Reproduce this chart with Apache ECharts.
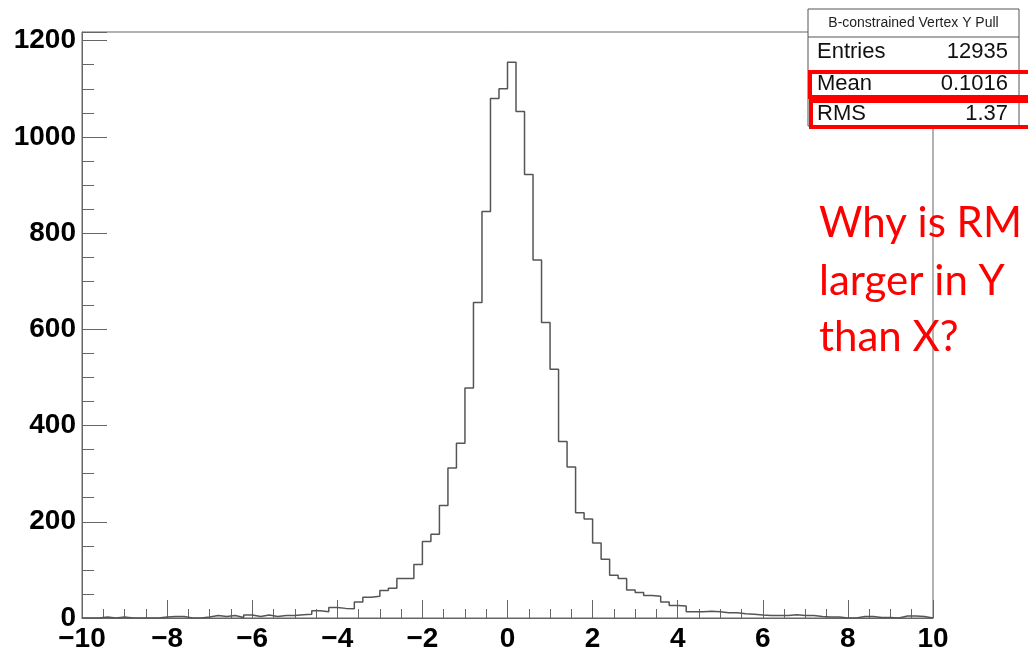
<!DOCTYPE html>
<html>
<head>
<meta charset="utf-8">
<script src="https://cdn.jsdelivr.net/npm/echarts@6/dist/echarts.min.js"></script>
<style>
  html, body { margin: 0; padding: 0; background: #fff; }
  #chart { width: 1028px; height: 653px; }
</style>
</head>
<body>
<div id="chart"></div>
<script>
// ---- data ----
const xMin = -10;
const xMax = 10;
const binWidth = 0.2;
const counts = [
  0, 0, 2, 0, 2, 0, 0, 0, 0, 2,
  3, 3, 0, 0, 2, 5, 3, 5, 1, 6,
  3, 6, 3, 5, 5, 7, 8, 15, 13, 22,
  20, 19, 33, 43, 45, 57, 62, 82, 82, 111,
  159, 174, 234, 312, 363, 478, 656, 845, 1080, 1100,
  1155, 1053, 922, 744, 614, 517, 367, 314, 219, 206,
  156, 122, 89, 82, 58, 53, 47, 45, 33, 26,
  25, 13, 13, 14, 13, 11, 11, 9, 8, 6,
  5, 5, 5, 7, 5, 5, 3, 2, 2, 0,
  0, 3, 3, 1, 1, 0, 4, 4, 3, 0
];
const yMax = 1218;
const statsTitle = 'B-constrained Vertex Y Pull';
const statsNames = ['Entries', 'Mean', 'RMS'];
const statsValues = ['12935', '0.1016', '1.37'];
const noteLines = ['Why is RM', 'larger in Y', 'than X?'];

// ---- build step line ----
const stepData = counts.map((c, i) => [xMin + i * binWidth, c]);
stepData.push([xMax, counts[counts.length - 1]]);

const chart = echarts.init(document.getElementById('chart'), null, { renderer: 'canvas' });

const labelFont = {
  fontFamily: 'Liberation Sans, Arial, sans-serif',
  fontWeight: 'bold',
  fontSize: 28,
  color: '#000'
};

const graphics = [];
// stats box
const bx = 808, by = 9, bw = 211, bh = 117;
graphics.push({
  type: 'rect', z: 100,
  shape: { x: bx, y: by, width: bw, height: bh },
  style: { fill: '#fff', stroke: '#555', lineWidth: 1 }
});
graphics.push({
  type: 'line', z: 101,
  shape: { x1: bx, y1: 37, x2: bx + bw, y2: 37 },
  style: { stroke: '#555', lineWidth: 1 }
});
graphics.push({
  type: 'text', z: 102,
  style: {
    text: statsTitle, x: bx + bw / 2, y: 23, align: 'center', verticalAlign: 'middle',
    fontFamily: 'Liberation Sans, Arial, sans-serif', fontSize: 14, fill: '#222'
  }
});
const rowY = [52, 84, 114];
statsNames.forEach((n, i) => {
  graphics.push({
    type: 'text', z: 102,
    style: {
      text: n, x: 817, y: rowY[i], align: 'left', verticalAlign: 'middle',
      fontFamily: 'Liberation Sans, Arial, sans-serif', fontSize: 22, fill: '#111'
    }
  });
  graphics.push({
    type: 'text', z: 102,
    style: {
      text: statsValues[i], x: 1008, y: rowY[i], align: 'right', verticalAlign: 'middle',
      fontFamily: 'Liberation Sans, Arial, sans-serif', fontSize: 22, fill: '#111'
    }
  });
});
// red highlight boxes
graphics.push({
  type: 'rect', z: 110,
  shape: { x: 810, y: 72, width: 230, height: 25 },
  style: { fill: 'none', stroke: '#f00', lineWidth: 4 }
});
graphics.push({
  type: 'rect', z: 110,
  shape: { x: 811, y: 101, width: 230, height: 26 },
  style: { fill: 'none', stroke: '#f00', lineWidth: 4 }
});
// red note
const noteY = [223, 281, 337];
noteLines.forEach((t, i) => {
  graphics.push({
    type: 'text', z: 120,
    style: {
      text: t, x: 819, y: noteY[i], align: 'left', verticalAlign: 'middle',
      fontFamily: 'Lato, Open Sans, sans-serif', fontSize: 42, fill: '#f00'
    }
  });
});

chart.setOption({
  animation: false,
  backgroundColor: '#fff',
  grid: {
    left: 82, right: 95, top: 32, bottom: 30,
    show: true, borderColor: '#666', borderWidth: 1, backgroundColor: 'transparent'
  },
  xAxis: {
    type: 'value',
    min: xMin, max: xMax, interval: 2,
    axisLine: { show: true, onZero: false, lineStyle: { color: '#666', width: 1 } },
    axisTick: { show: true, inside: true, length: 18, lineStyle: { color: '#666' } },
    minorTick: { show: true, splitNumber: 4, length: 9, lineStyle: { color: '#666' } },
    splitLine: { show: false },
    axisLabel: Object.assign({}, labelFont, {
      margin: 7,
      formatter: v => String(v).replace('-', '\u2212')
    })
  },
  yAxis: {
    type: 'value',
    min: 0, max: yMax, interval: 200,
    axisLine: { show: true, onZero: false, lineStyle: { color: '#666', width: 1 } },
    axisTick: { show: true, inside: true, length: 25, lineStyle: { color: '#666' } },
    minorTick: { show: true, splitNumber: 4, length: 12, lineStyle: { color: '#666' } },
    splitLine: { show: false },
    axisLabel: Object.assign({}, labelFont, {
      margin: 6, showMaxLabel: false, padding: [5, 0, 0, 0],
      formatter: v => String(v)
    })
  },
  series: [{
    type: 'line',
    step: 'end',
    data: stepData,
    symbol: 'none',
    lineStyle: { color: '#555', width: 1.5 },
    z: 5
  }],
  graphic: graphics
});
</script>
</body>
</html>
